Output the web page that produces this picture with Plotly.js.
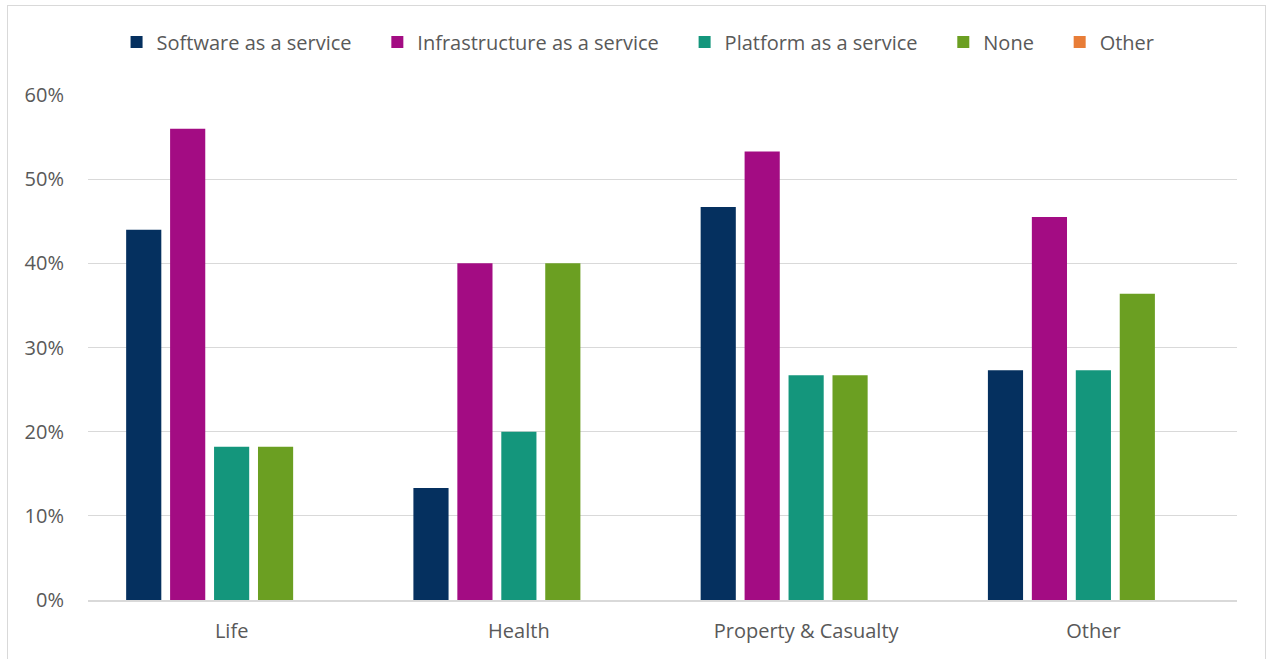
<!DOCTYPE html>
<html>
<head>
<meta charset="utf-8">
<script src="https://cdn.plot.ly/plotly-3.0.1.min.js"></script>
<style>
html,body{margin:0;padding:0;background:#fff;}
#chart{width:1266px;height:659px;}
#frame{position:absolute;left:7px;top:5px;width:1257px;height:700px;border:1px solid #d9d9d9;pointer-events:none;}
</style>
</head>
<body>
<div id="chart"></div>
<div id="frame"></div>
<script>
const categories = ["Life", "Health", "Property & Casualty", "Other"];
const seriesNames = ["Software as a service", "Infrastructure as a service", "Platform as a service", "None", "Other"];
const saas = [0.44, 0.133, 0.467, 0.273];
const iaas = [0.56, 0.40, 0.533, 0.455];
const paas = [0.182, 0.20, 0.267, 0.273];
const none = [0.182, 0.40, 0.267, 0.364];
const other = [0, 0, 0, 0];
const colors = ["#05305f", "#a30c83", "#14967c", "#6b9f22", "#e87d37"];
const values = [saas, iaas, paas, none, other];

const font = "'Open Sans', sans-serif";
const pad = "\u00a0\u00a0\u00a0\u00a0";
const traces = values.map((v, i) => ({
  type: "bar",
  name: seriesNames[i] + (i < values.length - 1 ? pad : ""),
  x: categories,
  y: v,
  marker: {color: colors[i]},
  hoverinfo: "name+y"
}));

const layout = {
  width: 1266, height: 659,
  margin: {l: 88, r: 29, t: 95, b: 59},
  paper_bgcolor: "#fff", plot_bgcolor: "#fff",
  font: {family: font, color: "#595959", size: 20},
  barmode: "group",
  bargap: 0.235,
  bargroupgap: 0.2,
  showlegend: true,
  legend: {
    orientation: "h",
    x: 0.504, xanchor: "center", xref: "container",
    y: 0.9363, yref: "container", yanchor: "middle",
    font: {size: 20, color: "#595959", family: font},
    traceorder: "normal",
    itemclick: false
  },
  xaxis: {
    type: "category",
    showgrid: false,
    showline: true, linecolor: "#d9d9d9", linewidth: 1.5,
    ticks: "", tickfont: {size: 20, color: "#595959"},
    ticklabelstandoff: 12,
    zeroline: false
  },
  yaxis: {
    range: [0, 0.6],
    tickvals: [0, 0.1, 0.2, 0.3, 0.4, 0.5, 0.6],
    ticktext: ["0%", "10%", "20%", "30%", "40%", "50%", "60%"],
    showgrid: true, gridcolor: "#d9d9d9", gridwidth: 1,
    zeroline: false, showline: false,
    ticks: "", tickfont: {size: 20, color: "#595959"},
    ticklabelstandoff: 23
  }
};

Plotly.newPlot("chart", traces, layout, {displayModeBar: false, staticPlot: true});
</script>
</body>
</html>
